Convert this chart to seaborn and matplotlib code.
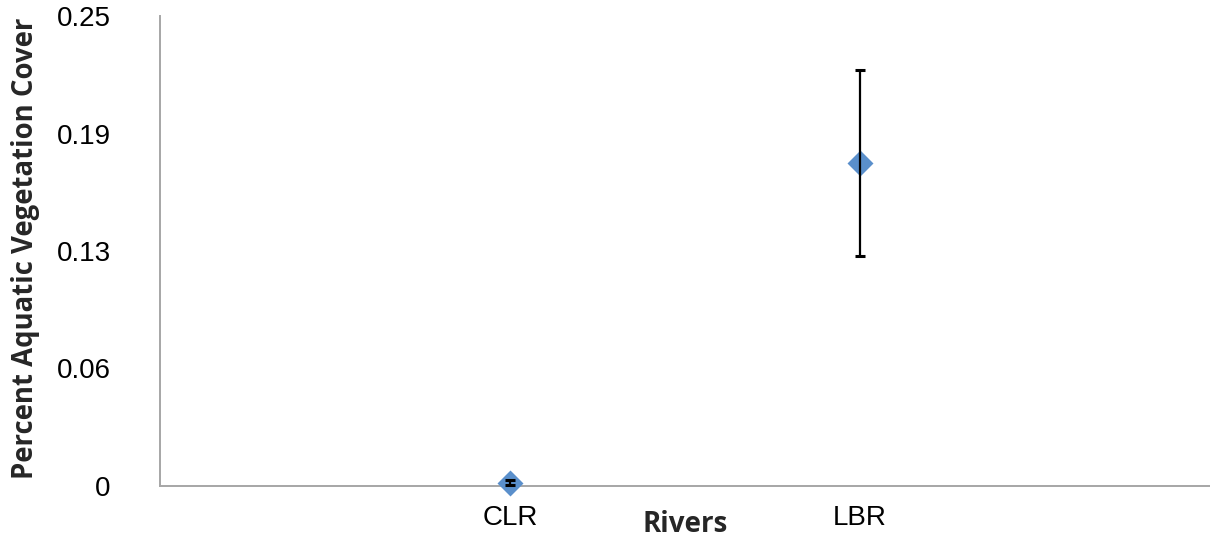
import matplotlib
matplotlib.use("Agg")
import matplotlib.pyplot as plt
import seaborn as sns
import pandas as pd

# Mean aquatic vegetation cover per river, with error bars
rivers = ["CLR", "LBR"]
positions = [1, 2]
cover_mean = [0.0018, 0.1717]
cover_err = [0.0012, 0.0495]

y_ticks = [0, 0.0625, 0.125, 0.1875, 0.25]
y_tick_labels = ["0", "0.06", "0.13", "0.19", "0.25"]

df = pd.DataFrame({"pos": positions, "river": rivers,
                   "cover": cover_mean, "err": cover_err})

sns.set_style("white")
plt.rcParams["font.family"] = ["Liberation Sans", "DejaVu Sans"]

axis_grey = "#A6A6A6"
point_blue = "#5A8FCB"

fig = plt.figure(figsize=(12.10, 5.37), dpi=100)
ax = fig.add_axes([160 / 1210, 1 - 486 / 537, 1050 / 1210, 470 / 537])

sns.scatterplot(data=df, x="pos", y="cover", marker="D", s=175,
                color=point_blue, edgecolor=point_blue, linewidth=0,
                ax=ax, zorder=3, clip_on=False, legend=False)
ax.errorbar(df["pos"], df["cover"], yerr=df["err"], fmt="none",
            ecolor="black", elinewidth=1.6, capsize=3.5, capthick=2.2,
            zorder=4, clip_on=False)

ax.set_xlim(0, 3)
ax.set_ylim(0, 0.25)
ax.set_xticks(positions)
ax.set_xticklabels(rivers)
ax.set_yticks(y_ticks)
ax.set_yticklabels(y_tick_labels)

ax.tick_params(axis="x", length=0, pad=14, labelsize=20, colors="black")
ax.tick_params(axis="y", length=6, width=1.4, color=axis_grey,
               pad=29.5, labelsize=20, labelcolor="black", direction="out")

for side in ("top", "right"):
    ax.spines[side].set_visible(False)
for side in ("left", "bottom"):
    ax.spines[side].set_color(axis_grey)
    ax.spines[side].set_linewidth(1.4)

ax.set_xlabel("Rivers", fontsize=20, fontweight="bold", family="Open Sans")
ax.xaxis.set_label_coords(0.5, -0.052)
ax.set_ylabel("Percent Aquatic Vegetation Cover", fontsize=19.8,
              fontweight="bold", family="Open Sans")
ax.yaxis.set_label_coords(-0.114, 0.506)

fig.savefig("out.png", dpi=100)
